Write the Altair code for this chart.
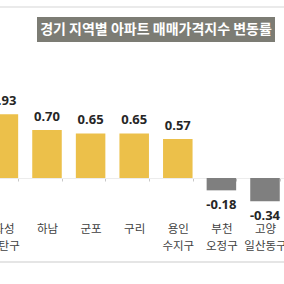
import altair as alt
import pandas as pd

categories = ["화성|동탄구", "하남", "군포", "구리", "용인|수지구", "부천|오정구", "고양|일산동구"]
values = [0.93, 0.70, 0.65, 0.65, 0.57, -0.18, -0.34]
title_text = "경기 지역별 아파트 매매가격지수 변동률"

df = pd.DataFrame({"cat": categories, "val": values})
df["pos"] = df["val"] >= 0

FONT = "Noto Sans CJK KR"
W, H = 284, 178
PX = 68.6

xs = alt.X("cat:N", sort=categories,
           scale=alt.Scale(range=[-18.4, 286.8], paddingInner=0.323, paddingOuter=0.1615),
           axis=alt.Axis(title=None, orient="bottom", domain=True,
                         domainColor="#ececec", ticks=True, tickBand="extent",
                         tickSize=3, tickColor="#c8c8c8", labelAngle=0,
                         labelPadding=42, labelBaseline="top", labelLineHeight=17,
                         labelFont=FONT, labelFontSize=11.5, labelColor="#404040",
                         labelExpr="split(datum.label, '|')"))
ys = alt.Y("val:Q", scale=alt.Scale(domain=[0, H / PX], nice=False, zero=False), axis=None)

base = alt.Chart(df).transform_calculate(
    lab="replace(format(datum.val, '.2f'), '\u2212', '-')"
)

bars = base.mark_bar().encode(
    x=xs, y=ys, y2=alt.datum(0),
    color=alt.Color("pos:N", scale=alt.Scale(domain=[True, False], range=["#ECC04A", "#7F7F7F"]), legend=None),
)

pos_labels = base.transform_filter("datum.val >= 0").mark_text(
    font="Noto Sans", fontSize=13, fontWeight="bold", color="#262626", baseline="alphabetic", dy=-9
).encode(x=alt.X("cat:N", sort=categories), y="val:Q", text="lab:N")

neg_labels = base.transform_filter("datum.val < 0").mark_text(
    font="Noto Sans", fontSize=13, fontWeight="bold", color="#262626", baseline="alphabetic", dy=19
).encode(x=alt.X("cat:N", sort=categories), y="val:Q", text="lab:N")

top_line = alt.Chart(pd.DataFrame({"a": [0]})).mark_rule(color="#e3e3e3", strokeWidth=1.5).encode(
    x=alt.value(0), x2=alt.value(W), y=alt.value(7))
bottom_line = alt.Chart(pd.DataFrame({"a": [0]})).mark_rule(color="#dcdcdc", strokeWidth=1.5).encode(
    x=alt.value(0), x2=alt.value(W), y=alt.value(262))

title_box = alt.Chart(pd.DataFrame({"a": [0]})).mark_rect(color="#7c7c74").encode(
    x=alt.value(37), x2=alt.value(275), y=alt.value(17), y2=alt.value(42))
title = alt.Chart(pd.DataFrame({"t": [title_text]})).mark_text(
    font=FONT, fontSize=14, fontWeight="bold", color="#ffffff", align="center", baseline="middle"
).encode(x=alt.value(156), y=alt.value(29.5), text="t:N")

chart = alt.layer(top_line, bottom_line, bars, pos_labels, neg_labels, title_box, title).properties(
    width=W, height=H, autosize=alt.AutoSizeParams(type="none"),
    padding={"left": 0, "top": 0, "right": 0, "bottom": 284 - H}, background="#ffffff"
).configure_view(stroke=None)

chart.save("out.html", embed_options={"renderer": "svg", "actions": False})
